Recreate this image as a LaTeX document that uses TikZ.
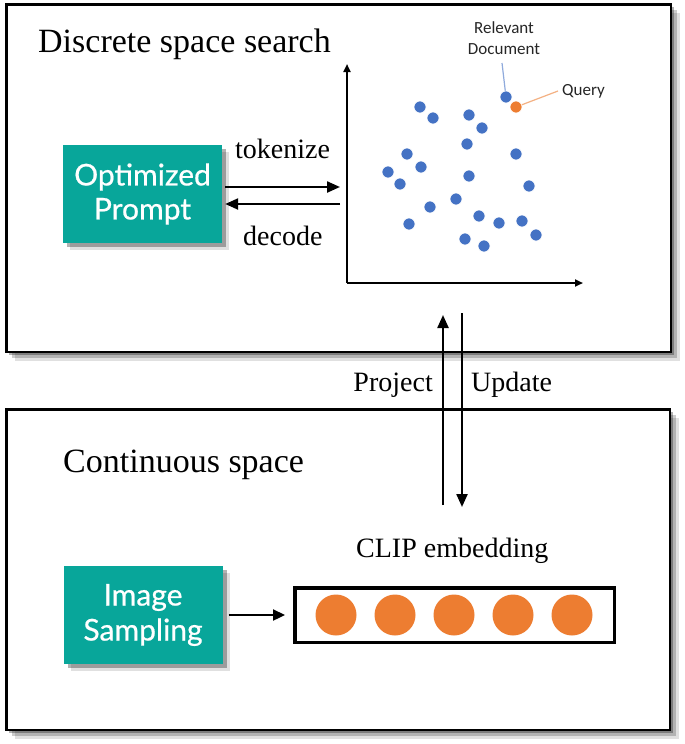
\documentclass[tikz,border=0pt]{standalone}
\usepackage{fontspec}
\setmainfont{Liberation Serif}
\newfontfamily\boxfont[FakeBold=0.6]{Lato}
\newfontfamily\lblfont{Carlito}
\usetikzlibrary{arrows.meta,shadows}
\definecolor{teal1}{RGB}{8,166,154}
\definecolor{dotblue}{RGB}{68,114,196}
\definecolor{orng}{RGB}{237,125,49}
\definecolor{lblue}{RGB}{143,170,220}
\definecolor{lorng}{RGB}{244,177,131}
\begin{document}
\begin{tikzpicture}[x=1pt,y=-1pt,
  panel/.style={draw=black, line width=2.5pt, fill=white, inner sep=0pt,
    drop shadow={shadow xshift=3pt,shadow yshift=-3pt,opacity=0.3,fill=black},
    drop shadow={shadow xshift=6pt,shadow yshift=-6pt,opacity=0.2,fill=black},
    drop shadow={shadow xshift=9pt,shadow yshift=-9pt,opacity=0.12,fill=black}},
  tbox/.style={fill=teal1, text=white, minimum width=159pt, minimum height=98pt,
    inner sep=0pt, align=center, font=\boxfont\fontsize{30}{36}\selectfont,
    drop shadow={shadow xshift=4pt,shadow yshift=-4pt,opacity=0.3,fill=black},
    drop shadow={shadow xshift=7pt,shadow yshift=-7pt,opacity=0.12,fill=black}},
  title/.style={font=\fontsize{34}{40}\selectfont, inner sep=0pt, anchor=base west},
  lbl/.style={font=\fontsize{28}{32}\selectfont, inner sep=0pt},
  small/.style={font=\lblfont\fontsize{17}{21}\selectfont, inner sep=0pt, text=black!85},
  bigarr/.style={line width=2.3pt, -{Triangle[length=13pt,width=11pt]}},
  axis/.style={line width=2pt, -{Triangle[length=8pt,width=7pt]}},
  dot/.style={circle, fill=dotblue, draw=white, line width=0.6pt, minimum size=12pt, inner sep=0pt},
  odot/.style={circle, fill=orng, draw=white, line width=0.6pt, minimum size=12pt, inner sep=0pt},
  ecirc/.style={circle, fill=orng, minimum size=41pt, inner sep=0pt},
]
\useasboundingbox (0,0) rectangle (685,744);

% panels
\node[panel, minimum width=664.5pt, minimum height=347.5pt] (top) at (338.5,178) {};
\node[panel, minimum width=663.5pt, minimum height=320.5pt] (bot) at (338,569.5) {};

% titles
\node[title] (t1) at (38,52) {Discrete space search};
\node[title] (t2) at (63,472) {Continuous space};

% optimized prompt
\node[tbox] (P) at (142.5,194) {Optimized\\[-2pt]Prompt};
\coordinate (tk) at (340,187);
\coordinate (dc) at (340,204);
\draw[bigarr] (P.east |- tk) ++(3,0) -- (tk);
\draw[bigarr] (dc) -- ([xshift=3pt]P.east |- dc);
\node[lbl, anchor=base west] (tok) at (235,158) {tokenize};
\node[lbl, anchor=base west] (dec) at (243,245) {decode};

% scatter plot
\coordinate (O) at (347,283);
\coordinate (ytip) at (347,64);
\coordinate (xtip) at (583,283);
\draw[axis] (O) -- (ytip);
\draw[axis] (O) -- (xtip);

\foreach \x/\y [count=\i] in {420/107,433/118,469/115,482/128,467/144,407/154,516/154,421/167,388/172,400/184,469/176,529/186,456/199,430/207,479/216,499/223,522/221,536/235,409/224,465/239,484/246}
  \node[dot] (d\i) at (\x,\y) {};
\node[dot] (rel) at (506,97) {};
\node[odot] (qry) at (516,107) {};

\node[small, anchor=base] (relt1) at (504,33) {Relevant};
\node[small, anchor=base] (relt2) at (504,54) {Document};
\node[small, anchor=base west] (qt) at (562,95) {Query};
\draw[lblue, line width=1.2pt] (502,63) -- (rel);
\draw[lorng, line width=1.2pt] (qry) -- (558,91);

% project / update
\coordinate (pjs) at (443,505);
\coordinate (pje) at (443,315);
\coordinate (ups) at (462,313);
\coordinate (upe) at (462,507);
\draw[bigarr] (pjs) -- (pje);
\draw[bigarr] (ups) -- (upe);
\node[lbl, anchor=base east] (pjt) at (433,391) {Project};
\node[lbl, anchor=base west] (upt) at (471,391) {Update};

% continuous space
\node[tbox] (S) at (143,615) {Image\\[-1pt]Sampling};
\node[lbl, anchor=base west] (clip) at (356,557) {CLIP embedding};
\node[draw=black, line width=3.5pt, minimum width=319.5pt, minimum height=54.5pt, inner sep=0pt] (emb) at (454.5,615) {};
\foreach \x [count=\i] in {336,395,454,513,572}
  \node[ecirc] (e\i) at (\x,615) {};
\draw[line width=2.3pt, -{Triangle[length=12pt,width=11pt]}, shorten <=6pt, shorten >=8pt] (S.east |- emb.west) -- (emb.west);
\end{tikzpicture}
\end{document}
